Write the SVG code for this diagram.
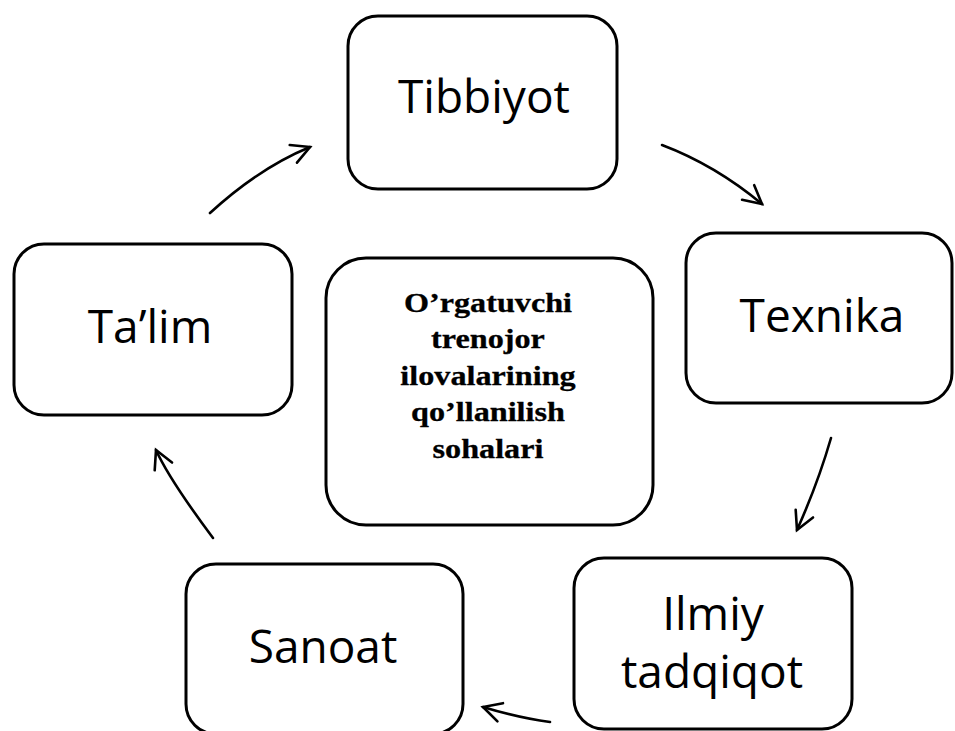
<svg xmlns="http://www.w3.org/2000/svg" width="955" height="731" viewBox="0 0 955 731">
<style>
.box{fill:#fff;stroke:#000;stroke-width:3}
.lbl{font-family:"Open Sans","Liberation Sans",sans-serif;font-size:46px;fill:#000;text-anchor:middle}
.ctr{font-family:"Liberation Serif","Times New Roman",serif;font-size:28px;font-weight:bold;fill:#000;stroke:#000;stroke-width:0.3;text-anchor:middle}
.arr{fill:none;stroke:#000;stroke-width:2.6;stroke-linecap:round;marker-end:url(#ah)}
</style>
<defs>
<marker id="ah" markerUnits="userSpaceOnUse" markerWidth="30" markerHeight="30" refX="0" refY="0" viewBox="-22 -15 26 30" orient="auto" overflow="visible">
<path d="M-18,-9.5 L0,0 L-18,9.5" fill="none" stroke="#000" stroke-width="2.6" stroke-linecap="round" stroke-linejoin="miter"/>
</marker>
</defs>
<g id="connectors">
<path class="arr" d="M210,213 Q259,168 310,147"/>
<path class="arr" d="M662,145 Q715,165 762,204"/>
<path class="arr" d="M831,438 Q818,483 797,530"/>
<path class="arr" d="M550,722 Q519,718 483,707"/>
<path class="arr" d="M213,538 Q169,479 156,450"/>
</g>
<g id="tibbiyot">
<rect class="box" x="348" y="16" width="269" height="173" rx="30"/>
<text class="lbl" x="484" y="113">Tibbiyot</text>
</g>
<g id="texnika">
<rect class="box" x="686" y="233" width="266" height="170" rx="30"/>
<text class="lbl" x="822" y="332">Texnika</text>
</g>
<g id="ilmiy">
<rect class="box" x="574" y="558" width="278" height="171" rx="30"/>
<text class="lbl" x="713" y="630">Ilmiy</text>
<text class="lbl" x="712" y="688">tadqiqot</text>
</g>
<g id="sanoat">
<rect class="box" x="186" y="564" width="277" height="170" rx="30"/>
<text class="lbl" x="323" y="663">Sanoat</text>
</g>
<g id="talim">
<rect class="box" x="14" y="244" width="278" height="171" rx="30"/>
<text class="lbl" x="150" y="343">Ta’lim</text>
</g>
<g id="center">
<rect class="box" x="326" y="258" width="327" height="267" rx="40"/>
<g transform="translate(488,0) scale(1.15,1) translate(-488,0)">
<text class="ctr" x="488" y="312">O’rgatuvchi</text>
<text class="ctr" x="488" y="348">trenojor</text>
<text class="ctr" x="488" y="385">ilovalarining</text>
<text class="ctr" x="488" y="421">qo’llanilish</text>
<text class="ctr" x="488" y="458">sohalari</text>
</g>
</g>
</svg>
